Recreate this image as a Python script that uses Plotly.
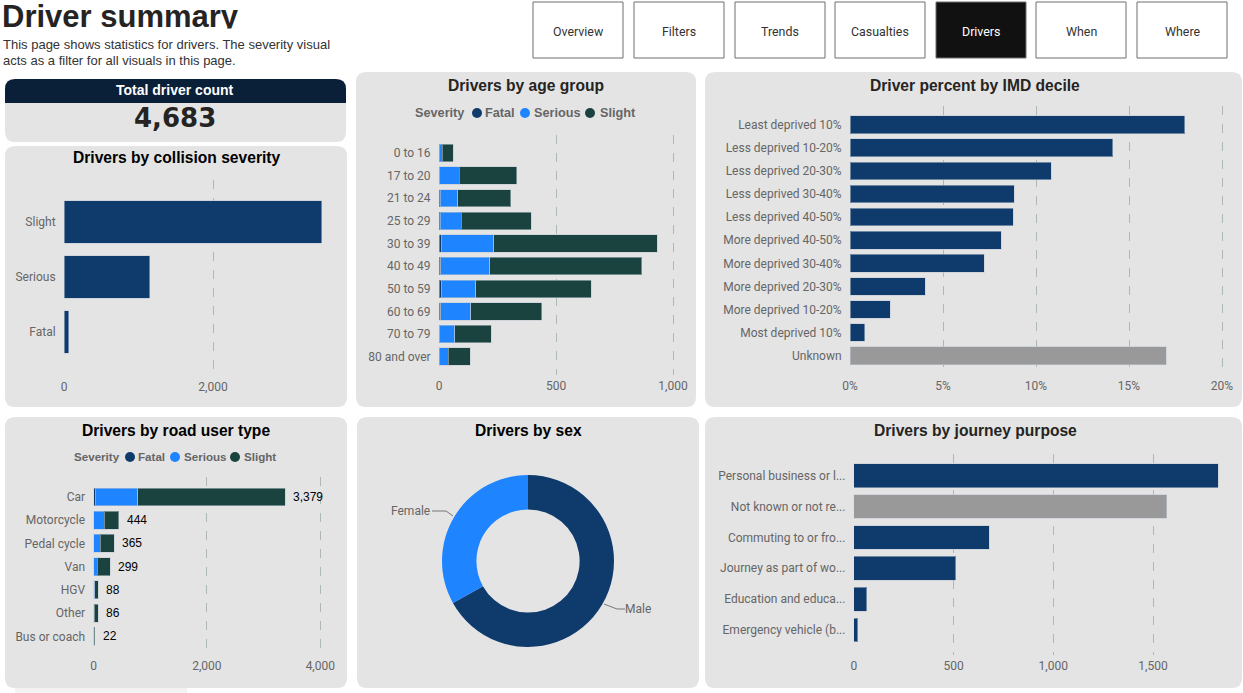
import plotly.graph_objects as go

W, H = 1243, 693

# ---------- data ----------
severity_cats = ["Slight", "Serious", "Fatal"]
severity_vals = [3463, 1154, 66]

age_cats = ["0 to 16", "17 to 20", "21 to 24", "25 to 29", "30 to 39", "40 to 49",
            "50 to 59", "60 to 69", "70 to 79", "80 and over"]
age_fatal = [1, 3, 5, 5, 9, 8, 9, 8, 3, 2]
age_serious = [13, 84, 76, 89, 226, 208, 149, 127, 65, 38]
age_slight = [46, 245, 225, 301, 697, 650, 492, 304, 156, 94]

imd_cats = ["Least deprived 10%", "Less deprived 10-20%", "Less deprived 20-30%",
            "Less deprived 30-40%", "Less deprived 40-50%", "More deprived 40-50%",
            "More deprived 30-40%", "More deprived 20-30%", "More deprived 10-20%",
            "Most deprived 10%", "Unknown"]
imd_vals = [18.0, 14.13, 10.82, 8.83, 8.79, 8.12, 7.23, 4.04, 2.16, 0.78, 17.0]

road_cats = ["Car", "Motorcycle", "Pedal cycle", "Van", "HGV", "Other", "Bus or coach"]
road_fatal = [35, 8, 2, 2, 2, 2, 0]
road_serious = [741, 180, 121, 63, 20, 12, 6]
road_slight = [2603, 256, 242, 234, 66, 72, 16]
road_totals = [3379, 444, 365, 299, 88, 86, 22]

sex_cats = ["Male", "Female"]
sex_vals = [3133, 1550]

journey_cats = ["Personal business or l...", "Not known or not re...", "Commuting to or fro...",
                "Journey as part of wo...", "Education and educa...", "Emergency vehicle (b..."]
journey_vals = [1828, 1568, 679, 512, 66, 19]

nav_labels = ["Overview", "Filters", "Trends", "Casualties", "Drivers", "When", "Where"]
legend_labels = ["Fatal", "Serious", "Slight"]
total_value = "4,683"

# ---------- style ----------
NAVY, BLUE, GREEN, GREY = "#0F3B6C", "#1E84FF", "#1A4340", "#999999"
PANEL, DARK, AXIS_TXT = "#E4E4E4", "#0A2038", "#666666"
GRID = "#AEB9B6"
EDGE = dict(color="rgba(190,200,210,0.55)", width=1)
SANS, UI = "Liberation Sans", "Roboto"
UI_SIZE = 12


def fx(p):
    return p / W


def fy(p):
    return 1 - p / H


shapes, annos = [], []


def rounded(x0, y0, x1, y1, r=10, color=PANEL, bottom=True):
    a, b, c, d = fx(x0), fy(y0), fx(x1), fy(y1)
    rx, ry = r / W, r / H
    p = f"M{a+rx},{b} L{c-rx},{b} Q{c},{b} {c},{b-ry} "
    if bottom:
        p += f"L{c},{d+ry} Q{c},{d} {c-rx},{d} L{a+rx},{d} Q{a},{d} {a},{d+ry} "
    else:
        p += f"L{c},{d} L{a},{d} "
    p += f"L{a},{b-ry} Q{a},{b} {a+rx},{b} Z"
    shapes.append(dict(type="path", xref="paper", yref="paper", path=p,
                       fillcolor=color, line=dict(width=0), layer="below"))


def text(x, y, s, size=12, color="#252423", family=SANS, anchor="center", bold=False):
    annos.append(dict(xref="paper", yref="paper", x=fx(x), y=fy(y), text=f"<b>{s}</b>" if bold else s,
                      showarrow=False, xanchor=anchor, yanchor="middle",
                      font=dict(size=size, color=color, family=family)))


# panels
rounded(5, 79, 346, 142)
rounded(5, 79, 346, 103, color=DARK, bottom=False)
rounded(5, 146, 347, 407)
rounded(356, 72, 696, 407)
rounded(705, 72, 1242, 407)
rounded(5, 417, 347, 688)
rounded(357, 417, 699, 688)
rounded(705, 417, 1242, 688)
shapes.append(dict(type="rect", xref="paper", yref="paper", x0=fx(15), x1=fx(187), y0=0, y1=fy(688),
                   fillcolor="#F3F3F3", line=dict(width=0), layer="below"))

# nav buttons
nav_x = [533, 634, 735, 835, 936, 1036, 1137]
for lab, x in zip(nav_labels, nav_x):
    on = lab == "Drivers"
    shapes.append(dict(type="rect", xref="paper", yref="paper", x0=fx(x), x1=fx(x + 90), y0=fy(58), y1=fy(2),
                       fillcolor="#111111" if on else "#FFFFFF", line=dict(color="#6E6E6E", width=1), layer="below"))
    text(x + 45, 31, lab, size=UI_SIZE + 0.4, color="#FFFFFF" if on else "#333333", family=UI)

# heading texts
text(1, 44, "This page shows statistics for drivers. The severity visual", size=13, anchor="left", color="#333333")
text(1, 61, "acts as a filter for all visuals in this page.", size=13, anchor="left", color="#333333")
text(175, 90, "Total driver count", size=14, color="#FFFFFF", bold=True)
text(175, 118, total_value, size=26, family="DejaVu Sans", bold=True)

# panel titles
text(176, 158, "Drivers by collision severity", size=15.6, color="#000000", bold=True)
text(526, 85, "Drivers by age group", size=15.6, bold=True)
text(975, 85, "Driver percent by IMD decile", size=15.6, bold=True)
text(176, 430, "Drivers by road user type", size=15.6, color="#000000", bold=True)
text(528, 430, "Drivers by sex", size=15.6, color="#000000", bold=True)
text(975, 430, "Drivers by journey purpose", size=15.6, bold=True)


# severity legends
def legend(y, size, sev_x, dots, labels):
    text(sev_x, y, "Severity", size=size, color=AXIS_TXT, anchor="left", bold=True)
    for dot, lx, lab, col in zip(dots, labels, legend_labels, [NAVY, BLUE, GREEN]):
        shapes.append(dict(type="circle", xref="paper", yref="paper", x0=fx(dot - 5), x1=fx(dot + 5),
                           y0=fy(y + 5), y1=fy(y - 5), fillcolor=col, line=dict(width=0), layer="below"))
        text(lx, y, lab, size=size, color=AXIS_TXT, anchor="left", bold=True)


legend(113, 12.7, 413, [477, 525, 590], [483, 532, 598])
legend(457, 11.6, 72, [130, 175, 235], [136, 182, 242])

fig = go.Figure()
layout_axes = {}


def axes(n, left, right, top, bottom, x0_px, x1_px, x1_val, tickvals, first_c, last_c, count, suffix="", xlen=0):
    """Set up one chart's axes from its pixel box and calibration."""
    per = (x1_px - x0_px) / x1_val
    band = (last_c - first_c) / (count - 1)
    s = "" if n == 1 else str(n)
    layout_axes[f"xaxis{s}"] = dict(
        domain=[fx(left), fx(right)], anchor=f"y{s}",
        range=[(left - x0_px) / per, (right - x0_px) / per],
        tickmode="array", tickvals=tickvals, ticktext=[f"{v:,}{suffix}" for v in tickvals],
        showgrid=True, gridcolor=GRID, griddash="dash", gridwidth=1, zeroline=False, showline=False,
        ticks="outside", ticklen=xlen, tickcolor="rgba(0,0,0,0)",
        tickfont=dict(family=UI, size=UI_SIZE, color=AXIS_TXT))
    layout_axes[f"yaxis{s}"] = dict(
        domain=[fy(bottom), fy(top)], anchor=f"x{s}", type="category",
        range=[(bottom - first_c) / band, (top - first_c) / band],
        showgrid=False, zeroline=False, showline=False,
        ticks="outside", ticklen=5, tickcolor="rgba(0,0,0,0)",
        tickfont=dict(family=UI, size=UI_SIZE, color=AXIS_TXT))
    return f"x{s}", f"y{s}"


def bars(xa, ya, cats, vals, color, name=None):
    fig.add_trace(go.Bar(x=vals, y=cats, orientation="h", xaxis=xa, yaxis=ya, name=name,
                         marker=dict(color=color, line=EDGE), showlegend=False))


# 1 severity
xa, ya = axes(1, 64, 335, 180, 375, 64, 213, 2000, [0, 2000], 222, 332, 3, xlen=1)
bars(xa, ya, severity_cats, severity_vals, NAVY)

# 2 age
xa, ya = axes(2, 439, 690, 135, 375, 439, 673, 1000, [0, 500, 1000], 153, 356.7, 10)
for vals, col, nm in zip([age_fatal, age_serious, age_slight], [NAVY, BLUE, GREEN], legend_labels):
    bars(xa, ya, age_cats, vals, col, nm)

# 3 IMD
xa, ya = axes(3, 850, 1235, 106, 372, 850, 1222, 20, [0, 5, 10, 15, 20], 124.7, 355.7, 11, "%", xlen=3)
bars(xa, ya, imd_cats, imd_vals, [GREY if c == "Unknown" else NAVY for c in imd_cats])

# 4 road
xa, ya = axes(4, 93.5, 335, 477, 655, 93.5, 320.3, 4000, [0, 2000, 4000], 497, 636.3, 7)
for vals, col, nm in zip([road_fatal, road_serious, road_slight], [NAVY, BLUE, GREEN], legend_labels):
    bars(xa, ya, road_cats, vals, col, nm)
for c, t in zip(road_cats, road_totals):
    annos.append(dict(xref=xa, yref=ya, x=t, y=c, text=f"{t:,}", showarrow=False, xanchor="left", xshift=6,
                      font=dict(family=SANS, size=12, color="#000000")))

# 5 journey
xa, ya = axes(5, 853.8, 1230, 454, 655, 853.8, 1153, 1500, [0, 500, 1000, 1500], 475.7, 630, 6)
bars(xa, ya, journey_cats, journey_vals, [GREY if c.startswith("Not known") else NAVY for c in journey_cats])

# clipped page heading
layout_axes["xaxis6"] = dict(domain=[0, fx(400)], range=[0, 400], visible=False, anchor="y6")
layout_axes["yaxis6"] = dict(domain=[fy(28.5), 1], range=[28.5, 0], visible=False, anchor="x6")
fig.add_trace(go.Scatter(x=[2], y=[19], mode="text", text=["<b>Driver summary</b>"], textposition="middle right",
                         xaxis="x6", yaxis="y6", showlegend=False,
                         textfont=dict(family=SANS, size=31, color="#252423")))

# 6 donut
fig.add_trace(go.Pie(labels=sex_cats, values=sex_vals, hole=0.6, sort=False, direction="clockwise", rotation=0,
                     domain=dict(x=[fx(442), fx(614)], y=[fy(647), fy(475)]), textinfo="none",
                     marker=dict(colors=[NAVY, BLUE]), showlegend=False))
text(410, 511, sex_cats[1], size=UI_SIZE, color=AXIS_TXT, family=UI)
text(638, 609, sex_cats[0], size=UI_SIZE, color=AXIS_TXT, family=UI)
for pts in [[(432, 511), (446, 511), (453, 516)], [(625, 609), (617, 609), (604, 604)]]:
    p = "M" + " L".join(f"{fx(a)},{fy(b)}" for a, b in pts)
    shapes.append(dict(type="path", xref="paper", yref="paper", path=p, line=dict(color="#777777", width=1)))

fig.update_layout(width=W, height=H, margin=dict(l=0, r=0, t=0, b=0, autoexpand=False), paper_bgcolor="#FFFFFF",
                  plot_bgcolor="rgba(0,0,0,0)", barmode="stack", bargap=0.23, shapes=shapes, annotations=annos,
                  showlegend=False, **layout_axes)

fig.write_html("out.html", config=dict(displayModeBar=False),
               post_script="document.body.style.margin='0';document.body.style.overflow='hidden';")
